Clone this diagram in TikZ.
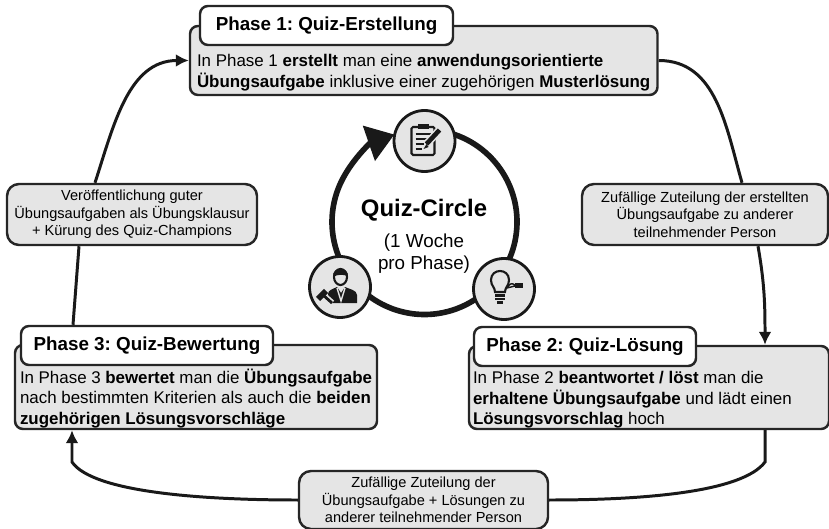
\documentclass[tikz,border=0pt]{standalone}
\usepackage{fontspec}
\setmainfont{Liberation Sans}
\frenchspacing
\usetikzlibrary{arrows.meta}
\newcommand{\bodystrut}[1]{\rule{0pt}{#1}}
\begin{document}
\begin{tikzpicture}[
    body/.style={draw=black!85, line width=1.4pt, fill=black!10, rounded corners=1.6mm, align=flush left, text width=#1, inner sep=0pt, font=\fontsize{9.63}{11.7}\selectfont},
    title/.style={draw=black!85, line width=1.4pt, fill=white, rounded corners=1.6mm, inner sep=0pt, minimum height=7.8mm, font=\fontsize{10.7}{12}\bfseries\selectfont},
    info/.style={draw=black!85, line width=1.4pt, fill=black!10, rounded corners=2.4mm, align=center, inner sep=0pt, font=\fontsize{8.3}{10}\selectfont},
    icon/.style={draw=black!90, line width=1.6pt, fill=black!10, circle, minimum size=12.2mm, inner sep=0pt},
    flow/.style={line width=1.7pt, black!90},
    ring/.style={line width=3.2pt, black!90},
    ink/.style={line width=1pt, black!90}]
    \useasboundingbox (0,0) rectangle (16.58,10.56);

    % phases
    \node[body=9.07cm, minimum width=9.35cm, minimum height=13.8mm] (phase1) at (8.475,9.35) {\bodystrut{21pt}In Phase 1 \textbf{erstellt} man eine \textbf{anwendungsorientierte}\\\textbf{Übungsaufgabe} inklusive einer zugehörigen \textbf{Musterlösung}};
    \node[title, minimum width=50.6mm] (title1) at (6.53,10.05) {Phase 1: Quiz-Erstellung};

    \node[body=7.04cm, minimum width=7.2cm, minimum height=16.6mm] (phase2) at (12.98,2.81) {\bodystrut{21pt}In Phase 2 \textbf{beantwortet / löst} man die\\\textbf{erhaltene Übungsaufgabe} und lädt einen\\\textbf{Lösungsvorschlag} hoch};
    \node[title, minimum width=44.4mm] (title2) at (11.7,3.63) {Phase 2: Quiz-Lösung};

    \node[body=7.04cm, minimum width=7.24cm, minimum height=16.8mm] (phase3) at (3.92,2.82) {\bodystrut{21pt}In Phase 3 \textbf{bewertet} man die \textbf{Übungsaufgabe}\\nach bestimmten Kriterien als auch die \textbf{beiden}\\\textbf{zugehörigen Lösungsvorschläge}};
    \node[title, minimum width=50.4mm] (title3) at (2.94,3.65) {Phase 3: Quiz-Bewertung};

    % transitions
    \node[info, minimum width=50mm, minimum height=12.2mm] (publish) at (2.64,6.27) {Veröffentlichung guter\\Übungsaufgaben als Übungsklausur\\+ Kürung des Quiz-Champions};
    \node[info, minimum width=49.2mm, minimum height=12.2mm] (assign1) at (14.1,6.27) {Zufällige Zuteilung der erstellten\\Übungsaufgabe zu anderer\\teilnehmender Person};
    \node[info, minimum width=49.8mm, minimum height=11.6mm] (assign2) at (8.47,0.56) {Zufällige Zuteilung der\\Übungsaufgabe + Lösungen zu\\anderer teilnehmender Person};
    \coordinate (turn2) at (15.3,1.32);
    \coordinate (turn3) at (1.44,1.32);

    \draw[flow] (phase1.east) to[out=0, in=106] ([xshift=7.4mm]assign1.north);
    \draw[flow, -{Latex[length=2.6mm,width=2.6mm]}] ([xshift=10.6mm]assign1.south) to[out=-80, in=90] ([xshift=23.2mm]phase2.north);
    \draw[flow] ([xshift=23.2mm]phase2.south) -- (turn2) .. controls (14.85,0.72) and (12.9,0.56) .. (assign2.east);
    \draw[flow, -{Latex[length=2.6mm,width=2.6mm]}] (assign2.west) .. controls (4,0.56) and (1.85,0.72) .. (turn3) -- ([xshift=-24.8mm]phase3.south);
    \draw[flow] ([xshift=-14.8mm]title3.north) -- ([xshift=-10.6mm]publish.south);
    \draw[flow, -{Latex[length=2.6mm,width=2.6mm]}] ([xshift=-7.4mm]publish.north) to[out=72, in=180] (phase1.west);

    % quiz circle
    \coordinate (ringcentre) at (8.49,6.12);
    \draw[ring, -{Triangle[length=5.4mm,width=7.2mm]}] (ringcentre) ++(215:1.85) arc[start angle=215, end angle=109, radius=1.85];
    \draw[ring] (ringcentre) ++(80:1.85) arc[start angle=80, end angle=-40, radius=1.85];
    \draw[ring] (ringcentre) ++(-40:1.85) arc[start angle=-40, end angle=-140, radius=1.85];
    \node[icon] (iconcreate) at (8.49,7.74) {};
    \node[icon] (iconsolve) at (10.08,4.78) {};
    \node[icon] (icongrade) at (6.8,4.82) {};

    \node[align=center, font=\fontsize{10.7}{12.5}\selectfont] (center) at (8.48,5.84) {{\fontsize{13.6}{16}\bfseries\selectfont Quiz-Circle}\\[5pt](1 Woche\\pro Phase)};

    % icons
    \begin{scope}[shift={(iconcreate)}, x=0.2mm, y=-0.2mm]
        \draw[ink, line width=1.2pt, rounded corners=0.3mm] (-13,-14) rectangle (10,14);
        \fill[black!90] (-7,-17) rectangle (4,-12);
        \draw[ink] (-9,-7) -- (6,-7) (-9,-2) -- (3,-2) (-9,3) -- (-1,3) (-9,8) -- (-3,8);
        \draw[black!10, line width=4.4pt] (15,-11) -- (2,3);
        \draw[black!90, line width=2.6pt] (15,-11) -- (2,3);
        \fill[black!90] (2,3) -- (-1,8) -- (4,6) -- cycle;
    \end{scope}
    \begin{scope}[shift={(icongrade)}, x=0.2mm, y=-0.2mm]
        \draw[ink, line width=1.2pt] (0.5,-10) ellipse (6.5 and 8);
        \fill[black!90] (-7,-10) .. controls (-8,-21) and (9,-21) .. (8,-10) .. controls (6,-13) and (-3,-13) .. (-7,-10) -- cycle;
        \fill[black!90] (-12,16) -- (-12,7) .. controls (-12,3) and (-7,2) .. (-3,0) -- (1,6) -- (5,0) .. controls (9,2) and (17,3) .. (17,8) -- (17,16) -- cycle;
        \draw[black!10, line width=0.8pt] (-3,1) -- (1,14) -- (5,1);
        \draw[black!10, line width=3.6pt] (-17,8) -- (-8,16);
        \draw[black!90, line width=1.6pt] (-17,8) -- (-8,16);
        \draw[black!90, line width=3.4pt] (-22,12) -- (-14,4);
    \end{scope}
    \begin{scope}[shift={(iconsolve)}, x=0.2mm, y=-0.2mm]
        \draw[ink, line width=1.2pt] (-9,3) .. controls (-9,-2) and (-13,-3) .. (-13,-9) .. controls (-13,-21) and (5,-21) .. (5,-9) .. controls (5,-3) and (1,-2) .. (1,3) -- cycle;
        \draw[ink, line width=1.4pt] (-9,6.5) -- (1,6.5) (-9,10) -- (1,10);
        \draw[ink, line width=1.4pt] (-7,13.5) -- (-1,13.5);
        \draw[ink, line width=0.8pt] (3,-1) .. controls (6,-6) and (8,-6) .. (11,-4) -- (11,-3) .. controls (8,-2) and (6,-2) .. (3,-1);
        \fill[black!90] (11,-6) rectangle (19,-1);
    \end{scope}
\end{tikzpicture}
\end{document}
